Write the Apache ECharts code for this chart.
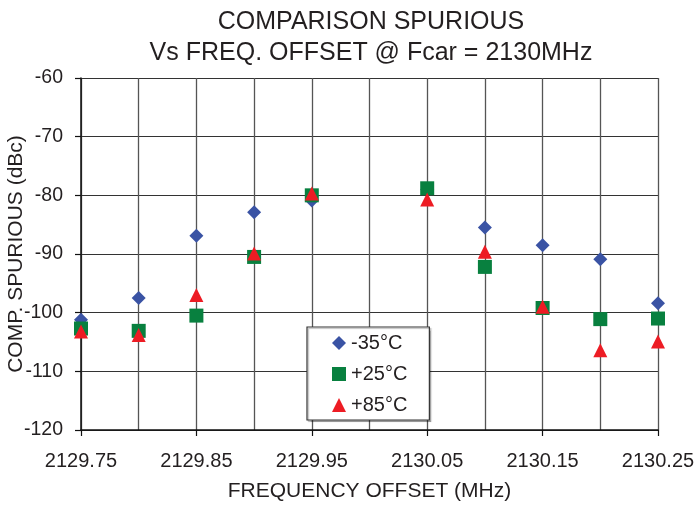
<!DOCTYPE html>
<html>
<head>
<meta charset="utf-8">
<script src="https://cdn.jsdelivr.net/npm/echarts@6/dist/echarts.min.js"></script>
<style>html,body{margin:0;padding:0;background:#fff;}#c{width:696px;height:507px;}</style>
</head>
<body>
<div id="c"></div>
<script>
var categories = ['2129.75','2129.80','2129.85','2129.90','2129.95','2130.00','2130.05','2130.10','2130.15','2130.20','2130.25'];
var yTicks = [-120, -110, -100, -90, -80, -70, -60];
var minus35 = [-101.2, -97.5, -86.9, -82.9, -80.9, null, -79.0, -85.5, -88.5, -90.9, -98.4];
var plus25  = [-102.7, -103.1, -100.5, -90.5, -80.0, null, -78.8, -92.2, -99.2, -101.1, -101.0];
var plus85  = [-103.2, -103.8, -97.0, -89.9, -79.7, null, -80.7, -89.6, -99.0, -106.4, -104.9];

var FONT = 'Liberation Sans, Arial, Helvetica, sans-serif';
var TXT = '#231f20';
function toData(a){ return a.map(function(v){ return v === null ? '-' : v; }); }

var chart = echarts.init(document.getElementById('c'), null, {renderer:'canvas'});
chart.setOption({
  animation: false,
  backgroundColor: '#fff',
  title: {
    text: 'COMPARISON SPURIOUS\nVs FREQ. OFFSET @ Fcar = 2130MHz',
    left: 371, top: 7, padding: 0,
    textAlign: 'center',
    textStyle: {fontFamily: FONT, fontSize: 25, fontWeight: 'normal', color: TXT, lineHeight: 31}
  },
  grid: {left: 81, right: 38, top: 78, bottom: 77, containLabel: false, outerBoundsMode: 'none'},
  legend: {
    orient: 'vertical',
    left: 307, top: 327,
    padding: [6, 22, 5, 25],
    itemWidth: 14, itemHeight: 14, itemGap: 11,
    backgroundColor: '#fff',
    borderColor: '#333', borderWidth: 1.2,
    shadowColor: 'rgba(0,0,0,0.25)', shadowOffsetX: 1.5, shadowOffsetY: 1.5, shadowBlur: 1,
    textStyle: {fontFamily: FONT, fontSize: 20, color: TXT},
    data: [
      {name: '-35°C', icon: 'diamond'},
      {name: '+25°C', icon: 'rect'},
      {name: '+85°C', icon: 'triangle'}
    ]
  },
  xAxis: {
    type: 'category',
    data: categories,
    boundaryGap: false,
    name: 'FREQUENCY OFFSET (MHz)',
    nameLocation: 'middle', nameGap: 51, nameMoveOverlap: false,
    nameTextStyle: {fontFamily: FONT, fontSize: 21, color: TXT},
    axisLine: {lineStyle: {color: '#111', width: 1.5}},
    axisTick: {show: true, interval: 1, length: 6, inside: false, lineStyle: {color: '#111', width: 1.2}},
    axisLabel: {interval: 1, margin: 21, fontFamily: FONT, fontSize: 20, color: TXT},
    splitLine: {show: true, interval: 0, lineStyle: {color: '#555', width: 1.3}}
  },
  yAxis: {
    type: 'value',
    min: yTicks[0], max: yTicks[yTicks.length-1], interval: 10,
    name: 'COMP. SPURIOUS (dBc)',
    nameLocation: 'middle', nameGap: 54, nameRotate: 90, nameMoveOverlap: false,
    nameTextStyle: {fontFamily: FONT, fontSize: 21, color: TXT},
    axisLine: {show: true, lineStyle: {color: '#111', width: 1.5}},
    axisTick: {show: true, length: 6, inside: false, lineStyle: {color: '#111', width: 1.2}},
    axisLabel: {margin: 18, fontFamily: FONT, fontSize: 19.5, color: TXT},
    splitLine: {show: true, lineStyle: {color: '#333', width: 1.2}}
  },
  series: [
    {name: '-35°C', type: 'scatter', symbol: 'diamond', symbolSize: 14,
     itemStyle: {color: '#3a53a4', opacity: 1}, data: toData(minus35)},
    {name: '+25°C', type: 'scatter', symbol: 'rect', symbolSize: 14,
     itemStyle: {color: '#08803f', opacity: 1}, data: toData(plus25)},
    {name: '+85°C', type: 'scatter', symbol: 'triangle', symbolSize: 14,
     itemStyle: {color: '#ed1c24', opacity: 1}, data: toData(plus85)}
  ]
});
</script>
</body>
</html>
